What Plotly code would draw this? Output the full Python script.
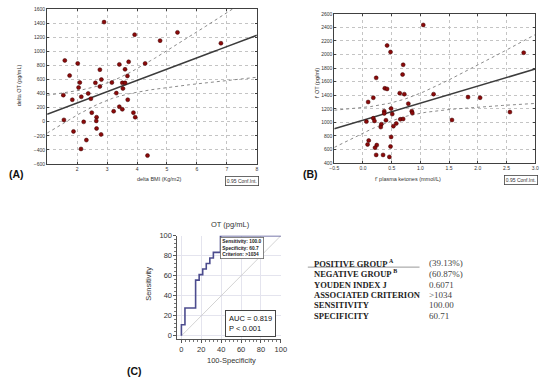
import numpy as np
import plotly.graph_objects as go

W, H = 550, 384

# ---------------- data ----------------
a_bmi = [2.90,3.92,4.77,5.35,6.80,1.59,2.02,3.41,3.72,4.27,2.76,3.60,1.75,3.68,2.81,2.09,2.61,3.16,3.51,3.60,
         2.05,2.76,3.53,2.37,3.31,1.54,2.14,2.46,1.84,3.69,3.41,3.51,3.22,2.49,3.88,3.94,2.65,2.64,1.56,2.22,
         2.65,1.88,2.80,2.31,2.13,4.35]
a_ot = [1413,1235,1150,1267,1113,869,827,813,850,827,738,743,654,649,598,555,551,555,551,551,
        485,499,471,401,406,377,354,326,312,312,213,176,148,129,129,64,64,12,26,-2,
        -96,-138,-180,-260,-386,-480]

b_ket = [1.05,0.42,0.48,0.70,0.69,0.23,0.38,0.42,0.64,0.72,0.18,0.09,0.79,1.23,0.49,0.37,0.37,0.85,0.86,0.51,
         0.18,0.20,0.06,0.40,0.65,0.70,0.58,0.32,0.31,0.53,0.49,0.10,0.08,0.24,0.21,0.48,0.23,0.35,0.46,1.55,
         1.83,2.04,2.56,2.80]
b_ot = [2436,2133,2037,1849,1705,1656,1502,1493,1430,1416,1363,1300,1276,1416,1204,1165,1132,1165,1137,1122,
        1060,1021,1011,1031,1045,1050,983,973,930,944,785,732,674,665,626,645,520,520,491,1035,
        1372,1363,1151,2027]

roc_fpr = [0, 0, 3.57, 14.29, 17.86, 21.43, 25.0, 28.57, 32.14, 39.29, 100]
roc_tpr = [0, 11.1, 27.8, 55.6, 61.1, 66.7, 72.2, 77.8, 83.3, 100, 100]

table_labels = ["POSITIVE GROUP <sup>A</sup>", "NEGATIVE GROUP <sup>B</sup>", "YOUDEN INDEX J",
                "ASSOCIATED CRITERION", "SENSITIVITY", "SPECIFICITY"]
table_values = ["(39.13%)", "(60.87%)", "0.6071", ">1034", "100.00", "60.71"]

T_CRIT = 2.015  # t(0.975, df~44)

# ---------------- helpers ----------------
def px(x):
    return x / W

def py(y):
    return 1 - y / H

def fit_band(x, y, lo, hi):
    x = np.asarray(x, float); y = np.asarray(y, float)
    n = len(x)
    b1, b0 = np.polyfit(x, y, 1)
    res = y - (b0 + b1 * x)
    s = np.sqrt(np.sum(res ** 2) / (n - 2))
    xbar = x.mean(); sxx = np.sum((x - xbar) ** 2)
    xs = np.linspace(lo, hi, 200)
    yh = b0 + b1 * xs
    se = s * np.sqrt(1 / n + (xs - xbar) ** 2 / sxx)
    return xs, yh, yh - T_CRIT * se, yh + T_CRIT * se

fig = go.Figure()
SANS = "Liberation Sans"
SERIF = "Liberation Serif"

def scatter_panel(xv, yv, xr, xa, ya):
    xs, yh, ylo, yhi = fit_band(xv, yv, xr[0], xr[1])
    for yy in (yhi, ylo):
        fig.add_trace(go.Scatter(x=xs, y=yy, mode="lines", xaxis=xa, yaxis=ya, showlegend=False,
                                 line=dict(color="#8a8a8a", width=1, dash="dot"), hoverinfo="skip"))
    fig.add_trace(go.Scatter(x=xs, y=yh, mode="lines", xaxis=xa, yaxis=ya, showlegend=False,
                             line=dict(color="#3c3c3c", width=1.5), hoverinfo="skip"))
    fig.add_trace(go.Scatter(x=xv, y=yv, mode="markers", xaxis=xa, yaxis=ya, showlegend=False,
                             marker=dict(color="#8b0a0a", size=4, line=dict(color="#3a0000", width=0.5))))

scatter_panel(a_bmi, a_ot, (1, 8), "x", "y")
scatter_panel(b_ket, b_ot, (-0.5, 3.0), "x2", "y2")

# ROC
fig.add_trace(go.Scatter(x=[0, 100], y=[0, 100], mode="lines", xaxis="x3", yaxis="y3", showlegend=False,
                         line=dict(color="#c8c8c8", width=0.8)))
fig.add_trace(go.Scatter(x=roc_fpr, y=roc_tpr, mode="lines", line_shape="hv", xaxis="x3", yaxis="y3",
                         showlegend=False, line=dict(color="#4c4c8e", width=1.6)))

sc_axis = dict(showline=True, mirror="ticks", linecolor="#404040", linewidth=1, ticks="inside", ticklen=2,
               tickcolor="#404040", showgrid=True, gridcolor="#c4c4c4", griddash="dot", gridwidth=0.6,
               zeroline=False, tickfont=dict(family=SANS, size=5, color="#333"))

fig.update_layout(
    width=W, height=H, margin=dict(l=0, r=0, t=0, b=0),
    paper_bgcolor="white", plot_bgcolor="white", showlegend=False,
    xaxis=dict(sc_axis, domain=[px(43), px(257)], range=[1, 8], anchor="y",
               tickvals=[2, 3, 4, 5, 6, 7, 8]),
    yaxis=dict(sc_axis, domain=[py(163), py(5)], range=[-600, 1600], dtick=200, anchor="x"),
    xaxis2=dict(sc_axis, domain=[px(336), px(541)], range=[-0.5, 3.0], dtick=0.5, tick0=-0.5,
                tickformat=".1f", anchor="y2"),
    yaxis2=dict(sc_axis, domain=[py(162), py(10)], range=[400, 2600], dtick=200, anchor="x2"),
    xaxis3=dict(domain=[px(176), px(282)], range=[-3.94, 100.5], tickvals=[0, 20, 40, 60, 80, 100],
                showline=True, linecolor="#555", linewidth=1, ticks="outside", ticklen=3, tickcolor="#555",
                minor=dict(ticks="outside", ticklen=2, dtick=4, tickcolor="#777", showgrid=False),
                showgrid=True, gridcolor="#e4e4ee", gridwidth=0.8, zeroline=False, anchor="y3",
                tickfont=dict(family=SANS, size=7.5, color="#333")),
    yaxis3=dict(domain=[py(341), py(236)], range=[-2.94, 100], tickvals=[0, 20, 40, 60, 80, 100],
                showline=True, linecolor="#555", linewidth=1, ticks="outside", ticklen=3, tickcolor="#555",
                minor=dict(ticks="outside", ticklen=2, dtick=4, tickcolor="#777", showgrid=False),
                showgrid=True, gridcolor="#e4e4ee", gridwidth=0.8, zeroline=False, anchor="x3",
                tickfont=dict(family=SANS, size=7.5, color="#333")),
)

ann = []
def text(x, y, s, size, family=SANS, color="#333", xanchor="center", yanchor="middle", angle=0, **kw):
    ann.append(dict(x=px(x), y=py(y), xref="paper", yref="paper", text=s, showarrow=False,
                    xanchor=xanchor, yanchor=yanchor, textangle=angle,
                    font=dict(family=family, size=size, color=color), **kw))

# Panel A
text(15, 83, "delta OT (pg/mL)", 5.5, angle=-90)
text(157, 178, "delta BMI (Kg/m2)", 5.5)
text(242, 180, "0.95 Conf.Int.", 5, bordercolor="#444", borderwidth=0.8, borderpad=1)
text(12, 173, "<b>(A)</b>", 10.5, color="#111")
# Panel B
text(318, 81, "f' OT (pg/ml)", 5.5, angle=-90)
text(411, 178, "f' plasma ketones (mmol/L)", 5.5)
text(527, 179, "0.95 Conf.Int.", 5, bordercolor="#444", borderwidth=0.8, borderpad=1)
text(312, 173, "<b>(B)</b>", 10.5, color="#111")
# Panel C
text(230, 225, "OT (pg/mL)", 7.5)
text(147, 285, "Sensitivity", 7.5, angle=-90)
text(231, 363, "100-Specificity", 7.5)
text(132, 374, "<b>(C)</b>", 10.5, color="#111")
text(219, 237, "<b>Sensitivity: 100.0<br>Specificity: 60.7<br>Criterion: >1034</b>", 4.8, color="#222",
     xanchor="left", yanchor="top", align="left", bordercolor="#666", borderwidth=0.8, borderpad=1.5,
     bgcolor="white")
text(224, 312, "AUC = 0.819<br>P < 0.001", 7.5, color="#111", xanchor="left", yanchor="top", align="left",
     bordercolor="#444", borderwidth=1, borderpad=3, bgcolor="white")

# Table
row_y = [264, 275, 286, 296, 307, 318]
for lbl, val, yy in zip(table_labels, table_values, row_y):
    text(313, yy, "<b>" + lbl + "</b>", 8.5, family=SERIF, color="#222", xanchor="left")
    text(431, yy, val, 9.0, family=SERIF, color="#444", xanchor="left")

fig.update_layout(annotations=ann)
fig.add_shape(type="line", xref="paper", yref="paper", x0=px(309), x1=px(423), y0=py(268), y1=py(268),
              line=dict(color="#999", width=1))

fig.write_html("out.html", config={"displayModeBar": False},
               post_script="document.body.style.margin='0';document.body.style.overflow='hidden';")
